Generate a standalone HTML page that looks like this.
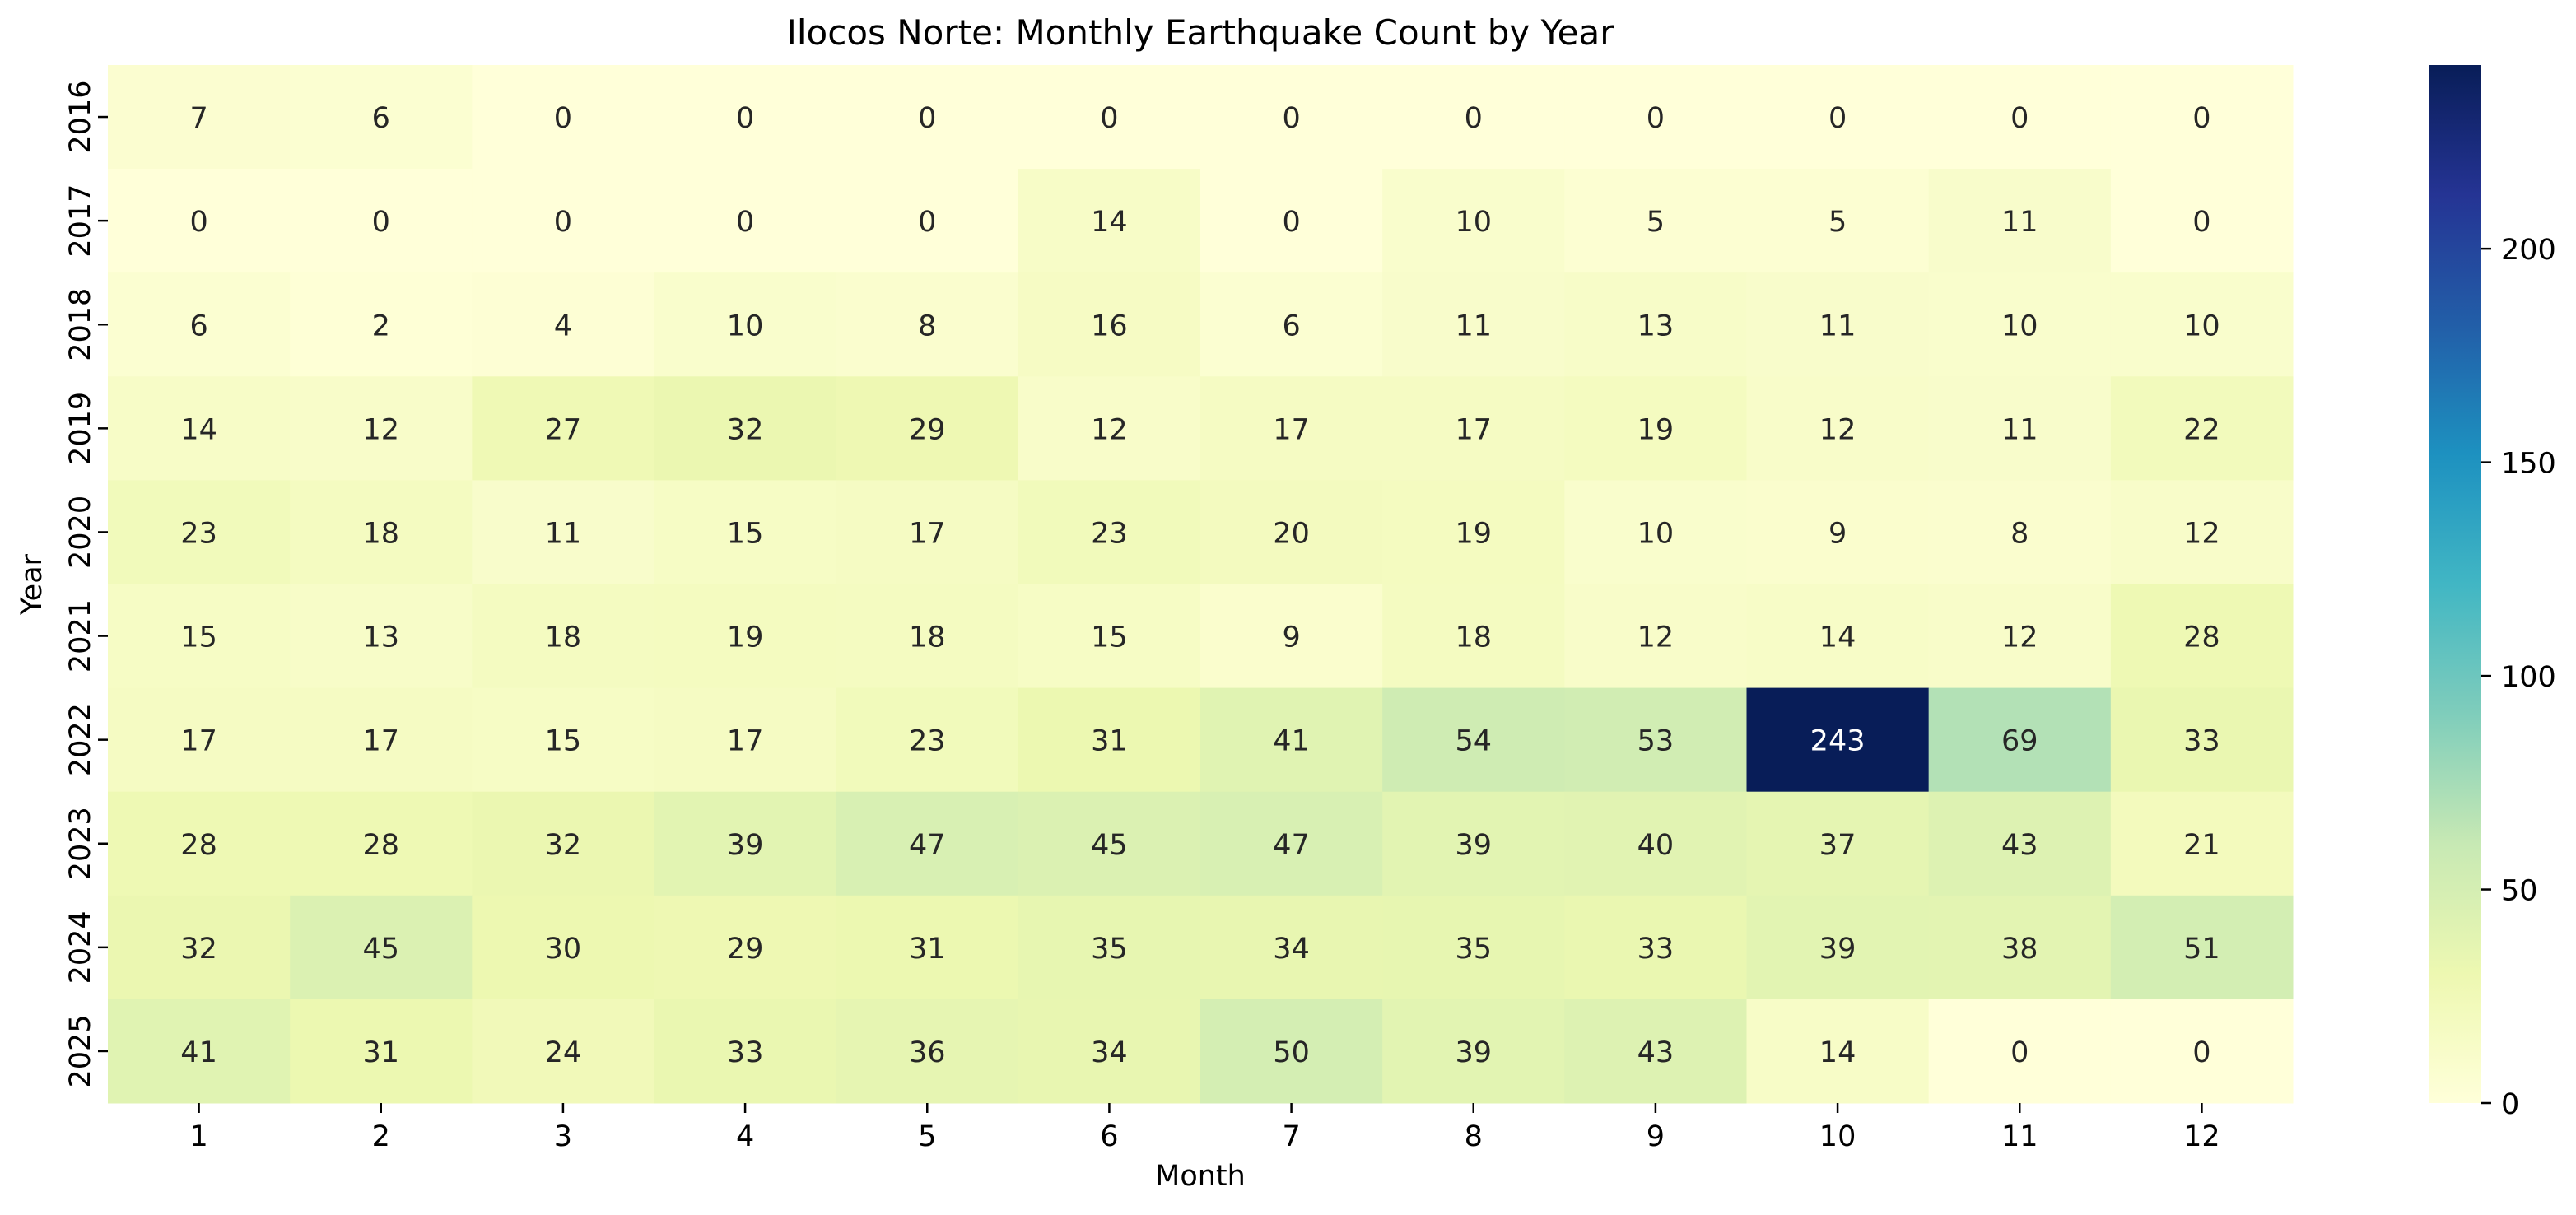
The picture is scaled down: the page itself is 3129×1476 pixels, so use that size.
<!DOCTYPE html>
<html><head><meta charset="utf-8"><style>
body{margin:0;background:#fff}
svg text{font-family:"DejaVu Sans","Liberation Sans",sans-serif;}
</style></head><body>
<svg id="chart" width="3129" height="1471" xmlns="http://www.w3.org/2000/svg">
<defs><linearGradient id="cbg" x1="0" y1="1" x2="0" y2="0"></linearGradient></defs>
<text x="1458" y="54" font-size="42" text-anchor="middle">Ilocos Norte: Monthly Earthquake Count by Year</text>
<text x="1458" y="1440" font-size="35" text-anchor="middle">Month</text>
<text x="0" y="0" font-size="35" text-anchor="middle" transform="translate(50,710) rotate(-90)">Year</text>
<g id="cells"></g>
<g id="xt"></g>
<g id="yt"></g>
<rect x="2950" y="79" width="64" height="1261" fill="url(#cbg)"/>
<g id="ct"></g>
</svg>
<script>
const months=[1,2,3,4,5,6,7,8,9,10,11,12];
const years=[2016,2017,2018,2019,2020,2021,2022,2023,2024,2025];
const counts=[
[7,6,0,0,0,0,0,0,0,0,0,0],
[0,0,0,0,0,14,0,10,5,5,11,0],
[6,2,4,10,8,16,6,11,13,11,10,10],
[14,12,27,32,29,12,17,17,19,12,11,22],
[23,18,11,15,17,23,20,19,10,9,8,12],
[15,13,18,19,18,15,9,18,12,14,12,28],
[17,17,15,17,23,31,41,54,53,243,69,33],
[28,28,32,39,47,45,47,39,40,37,43,21],
[32,45,30,29,31,35,34,35,33,39,38,51],
[41,31,24,33,36,34,50,39,43,14,0,0]];
const cbTicks=[0,50,100,150,200];
const vmax=243;
const L=131,R=2785,T=79,B=1340,CW=(R-L)/12,CH=(B-T)/10;
const cbX=2950,cbW=64;
const stops=["#ffffd9","#edf8b1","#c7e9b4","#7fcdbb","#41b6c4","#1d91c0","#225ea8","#253494","#081d58"];
const ns="http://www.w3.org/2000/svg";
function hex(h){return [1,3,5].map(i=>parseInt(h.substr(i,2),16));}
function cmap(v){let t=Math.max(0,Math.min(1,v/vmax))*(stops.length-1);let i=Math.min(Math.floor(t),stops.length-2),f=t-i;
const a=hex(stops[i]),b=hex(stops[i+1]);const c=a.map((x,k)=>Math.round(x+(b[k]-x)*f));return c;}
function xS(j){return L+j*CW;}
function yS(i){return T+i*CH;}
function cbY(v){return B-(v/vmax)*(B-T);}
function mk(tag,at,parent){const e=document.createElementNS(ns,tag);for(const k in at)e.setAttribute(k,at[k]);parent.appendChild(e);return e;}
const cells=document.getElementById('cells');
years.forEach((y,i)=>months.forEach((m,j)=>{
const v=counts[i][j];const c=cmap(v);
const r=mk('rect',{x:xS(j),y:yS(i),width:CW+0.5,height:CH+0.5,fill:`rgb(${c})`},cells);


const lum=(0.299*c[0]+0.587*c[1]+0.114*c[2]);
const t=mk('text',{x:xS(j)+CW/2,y:yS(i)+CH/2+13,'font-size':35,'text-anchor':'middle',fill:lum<128?'#ffffff':'#262626'},cells);
t.textContent=v;


}));
const xt=document.getElementById('xt');
months.forEach((m,j)=>{const x=xS(j)+CW/2;
const l=mk('line',{x1:x,x2:x,y1:B,y2:B+12,stroke:'#000','stroke-width':2.5},xt);


const t=mk('text',{x:x,y:B+52,'font-size':35,'text-anchor':'middle'},xt);t.textContent=m;

});
const yt=document.getElementById('yt');
years.forEach((y,i)=>{const cy=yS(i)+CH/2;
const l=mk('line',{x1:L-12,x2:L,y1:cy,y2:cy,stroke:'#000','stroke-width':2.5},yt);


const t=mk('text',{x:0,y:0,'font-size':35,'text-anchor':'middle',transform:`translate(${L-22},${cy}) rotate(-90)`},yt);t.textContent=y;

});
const g=document.getElementById('cbg');
for(let k=0;k<=40;k++){const v=vmax*k/40;const c=cmap(v);mk('stop',{offset:(k/40),'stop-color':`rgb(${c})`},g);}
const ct=document.getElementById('ct');
cbTicks.forEach(v=>{const y=cbY(v);
const l=mk('line',{x1:cbX+cbW,x2:cbX+cbW+12,y1:y,y2:y,stroke:'#000','stroke-width':2.5},ct);


const t=mk('text',{x:cbX+cbW+24,y:y+13,'font-size':35},ct);t.textContent=v;

});
</script>
</body></html>
